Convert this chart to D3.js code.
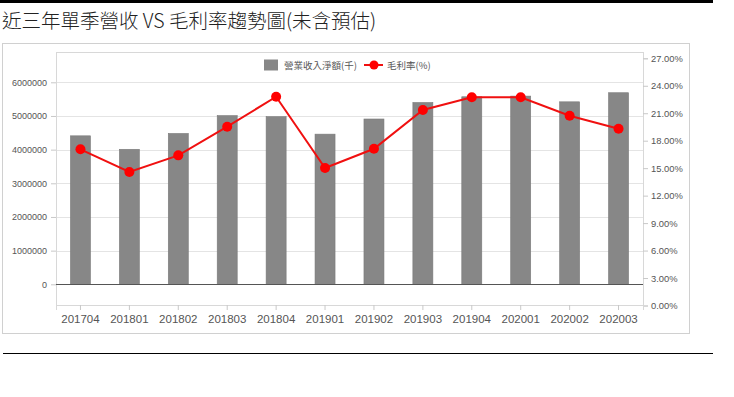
<!DOCTYPE html>
<html>
<head>
<meta charset="utf-8">
<script src="https://cdn.jsdelivr.net/npm/d3@7"></script>
<style>
body { margin: 0; background: #fff; }
svg text { font-family: "Liberation Sans", Arial, sans-serif; }
</style>
</head>
<body>
<div id="chart"></div>
<script>
// chart data
var quarters = ['201704', '201801', '201802', '201803', '201804', '201901',
	'201902', '201903', '201904', '202001', '202002', '202003'];
var revenue = [4410000, 4010000, 4480000, 5010000, 4980000, 4460000,
	4910000, 5400000, 5570000, 5590000, 5420000, 5690000];
var grossMargin = [17.06, 14.58, 16.40, 19.53, 22.80, 15.02,
	17.12, 21.35, 22.74, 22.74, 20.73, 19.31];
var revTicks = [0, 1000000, 2000000, 3000000, 4000000, 5000000, 6000000];
var pctTicks = [0, 3, 6, 9, 12, 15, 18, 21, 24, 27];
var title = '近三年單季營收 VS 毛利率趨勢圖(未含預估)';
var legendNames = ['營業收入淨額(千)', '毛利率(%)'];

var W = 734, H = 397;
var plot = {left: 56, right: 643, top: 52, bottom: 305};

var svg = d3.select('#chart')
	.append('svg')
	.attr('width', W)
	.attr('height', H);

// page decoration
svg.append('rect')
	.attr('x', 0).attr('y', 0)
	.attr('width', 713).attr('height', 3)
	.attr('fill', '#000');

svg.append('text')
	.attr('x', 2)
	.attr('y', 28)
	.attr('font-size', 19.5)
	.attr('fill', '#222')
	.style('font-family', '"Noto Sans CJK TC", sans-serif')
	.style('font-weight', 300)
	.text(title);

svg.append('rect')
	.attr('x', 2.5).attr('y', 43.5)
	.attr('width', 687).attr('height', 290)
	.attr('fill', 'none')
	.attr('stroke', '#d0d0d0');

svg.append('line')
	.attr('x1', 3).attr('x2', 713)
	.attr('y1', 353.5).attr('y2', 353.5)
	.attr('stroke', '#000');

// scales
var x = d3.scaleBand()
	.domain(quarters)
	.range([plot.left, plot.right]);

var yRev = d3.scaleLinear()
	.domain([0, 6000000])
	.range([284.3, 82.3]);

var yPct = d3.scaleLinear()
	.domain([0, 27])
	.range([305.5, 58.3]);

// grid
svg.append('g')
	.selectAll('line')
	.data(revTicks.filter(d => d > 0))
	.enter()
	.append('line')
	.attr('x1', plot.left).attr('x2', plot.right)
	.attr('y1', d => Math.round(yRev(d)) + 0.5)
	.attr('y2', d => Math.round(yRev(d)) + 0.5)
	.attr('stroke', '#e4e4e4');

// plot frame
svg.append('rect')
	.attr('x', plot.left + 0.5).attr('y', plot.top + 0.5)
	.attr('width', plot.right - plot.left).attr('height', plot.bottom - plot.top)
	.attr('fill', 'none')
	.attr('stroke', '#d8d8d8');

// bars
var barW = 20;
svg.append('g')
	.selectAll('rect')
	.data(quarters)
	.enter()
	.append('rect')
	.attr('x', d => x(d) + x.bandwidth() / 2 - barW / 2)
	.attr('y', (d, i) => yRev(revenue[i]))
	.attr('width', barW)
	.attr('height', (d, i) => yRev(0) - yRev(revenue[i]))
	.attr('fill', '#878787')
	.attr('stroke', '#7a7a7a')
	.attr('stroke-width', 0.6);

// zero line
svg.append('line')
	.attr('x1', plot.left).attr('x2', plot.right)
	.attr('y1', Math.round(yRev(0)) + 0.5)
	.attr('y2', Math.round(yRev(0)) + 0.5)
	.attr('stroke', '#555');

// axes
var leftAxis = d3.axisLeft(yRev)
	.tickValues(revTicks)
	.tickSize(5)
	.tickPadding(4)
	.tickFormat(d3.format('d'));

var gl = svg.append('g')
	.attr('transform', 'translate(' + plot.left + ',0)')
	.call(leftAxis);
gl.select('.domain').remove();

var rightAxis = d3.axisRight(yPct)
	.tickValues(pctTicks)
	.tickSize(5)
	.tickPadding(3)
	.tickFormat(d => d3.format('.2f')(d) + '%');

var gr = svg.append('g')
	.attr('transform', 'translate(' + plot.right + ',0)')
	.call(rightAxis);
gr.select('.domain').attr('stroke', '#d8d8d8');

var bottomAxis = d3.axisBottom(x)
	.tickSize(5)
	.tickPadding(5);

var gb = svg.append('g')
	.attr('transform', 'translate(0,' + plot.bottom + ')')
	.call(bottomAxis);
gb.select('.domain').attr('stroke', '#d8d8d8');

[gl, gr, gb].forEach(function(g) {
	g.selectAll('.tick line').attr('stroke', '#c8c8c8');
	g.selectAll('.tick text')
		.attr('fill', '#555')
		.style('font-family', '"Liberation Sans", Arial, sans-serif');
});
gl.selectAll('.tick text').attr('font-size', 9);
gr.selectAll('.tick text').attr('font-size', 9.4);
gb.selectAll('.tick text').attr('font-size', 11.5);

// margin line
var line = d3.line()
	.x((d, i) => x(quarters[i]) + x.bandwidth() / 2)
	.y(d => yPct(d));

svg.append('path')
	.datum(grossMargin)
	.attr('d', line)
	.attr('fill', 'none')
	.attr('stroke', '#f01010')
	.attr('stroke-width', 2);

svg.append('g')
	.selectAll('circle')
	.data(grossMargin)
	.enter()
	.append('circle')
	.attr('cx', (d, i) => x(quarters[i]) + x.bandwidth() / 2)
	.attr('cy', d => yPct(d))
	.attr('r', 5)
	.attr('fill', '#ff0000');

// legend
var legend = svg.append('g');
legend.append('rect')
	.attr('x', 264).attr('y', 59.5)
	.attr('width', 14).attr('height', 11)
	.attr('fill', '#878787');
legend.append('text')
	.attr('x', 284).attr('y', 68.5)
	.attr('font-size', 9.5)
	.attr('fill', '#555')
	.style('font-family', '"Noto Sans CJK TC", sans-serif')
	.text(legendNames[0]);
legend.append('line')
	.attr('x1', 364).attr('x2', 383)
	.attr('y1', 65).attr('y2', 65)
	.attr('stroke', '#f01010')
	.attr('stroke-width', 2);
legend.append('circle')
	.attr('cx', 374).attr('cy', 65)
	.attr('r', 4.5)
	.attr('fill', '#ff0000');
legend.append('text')
	.attr('x', 387).attr('y', 68.5)
	.attr('font-size', 9.5)
	.attr('fill', '#555')
	.style('font-family', '"Noto Sans CJK TC", sans-serif')
	.text(legendNames[1]);
</script>
</body>
</html>
